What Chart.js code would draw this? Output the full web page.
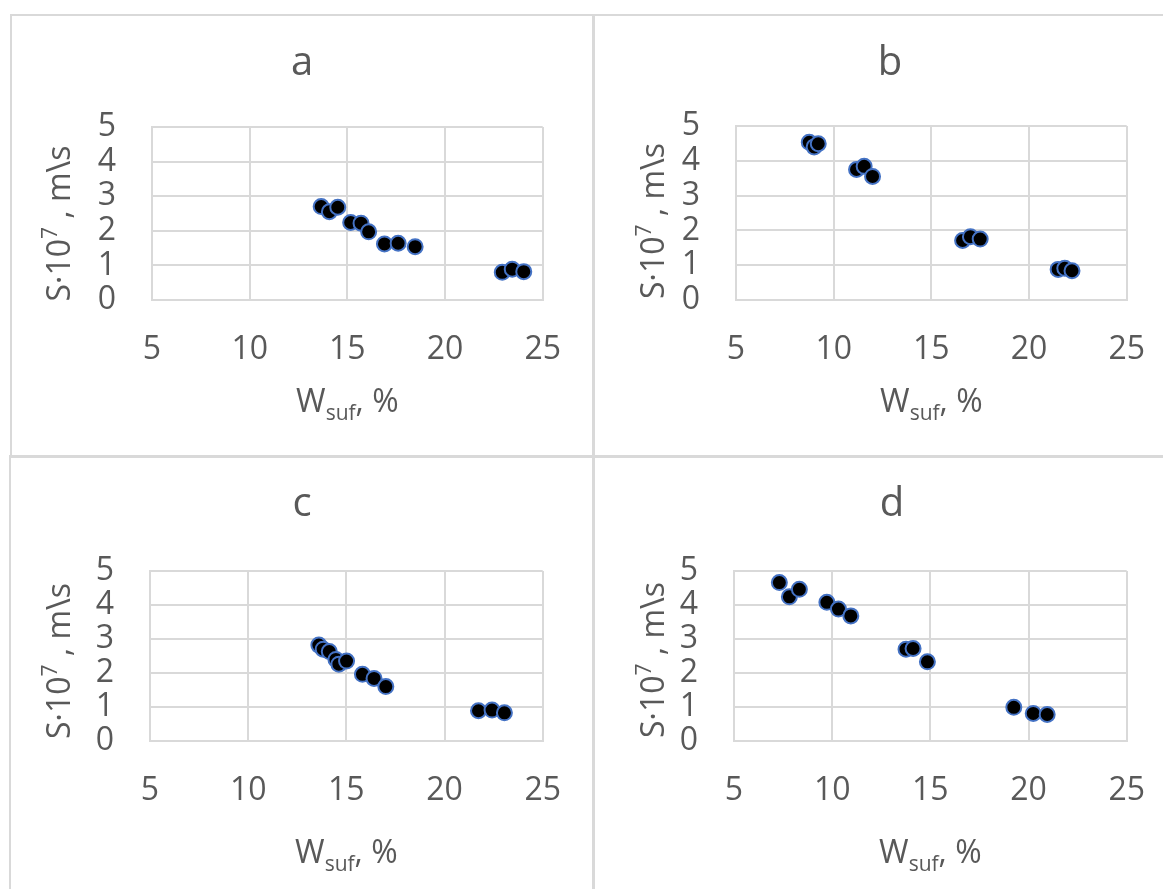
<!DOCTYPE html>
<html lang="en">
<head>
<meta charset="UTF-8">
<title>S vs Wsuf</title>
<script src="https://cdn.jsdelivr.net/npm/chart.js@4.4.0/dist/chart.umd.min.js"></script>
<style>
    body { margin: 0; background: #fff; overflow: hidden; }
    .wrap { position: relative; width: 1163px; height: 889px; overflow: hidden; }
    .wrap canvas { position: absolute; }
    .line { position: absolute; background: #d9d9d9; }
</style>
</head>
<body>
<div class="wrap">
    <canvas id="chartA" width="580" height="439" style="left:12px;top:17px"></canvas>
    <canvas id="chartB" width="580" height="439" style="left:596px;top:17px"></canvas>
    <canvas id="chartC" width="580" height="430" style="left:12px;top:459px"></canvas>
    <canvas id="chartD" width="580" height="430" style="left:596px;top:459px"></canvas>

    <div class="line" style="left:10px;top:14px;width:1153px;height:2px"></div>
    <div class="line" style="left:10px;top:14px;width:2px;height:443px"></div>
    <div class="line" style="left:9px;top:457px;width:2px;height:432px"></div>
    <div class="line" style="left:592px;top:14px;width:3px;height:875px"></div>
    <div class="line" style="left:9px;top:455px;width:1154px;height:3px"></div>
</div>

<script>
    // values
    const xTicks = [5, 10, 15, 20, 25];
    const yTicks = [0, 1, 2, 3, 4, 5];

    const aW = [13.66, 14.08, 14.51, 15.17, 15.70, 16.09, 16.90, 17.60, 18.47, 22.93, 23.44, 24.03];
    const aS = [2.70, 2.55, 2.68, 2.24, 2.22, 1.97, 1.62, 1.64, 1.54, 0.80, 0.89, 0.82];

    const bW = [8.75, 9.00, 9.21, 11.17, 11.56, 11.99, 16.60, 17.00, 17.50, 21.49, 21.83, 22.20];
    const bS = [4.53, 4.40, 4.49, 3.75, 3.84, 3.55, 1.71, 1.82, 1.75, 0.88, 0.91, 0.84];

    const cW = [13.60, 13.82, 14.13, 14.47, 14.62, 15.01, 15.82, 16.41, 17.01, 21.73, 22.42, 23.05];
    const cS = [2.82, 2.70, 2.63, 2.40, 2.26, 2.35, 1.96, 1.84, 1.60, 0.89, 0.91, 0.83];

    const dW = [7.31, 7.82, 8.33, 9.73, 10.32, 10.95, 13.76, 14.12, 14.85, 19.25, 20.24, 20.95];
    const dS = [4.66, 4.24, 4.46, 4.08, 3.88, 3.68, 2.70, 2.72, 2.33, 0.99, 0.81, 0.78];

    const textColor = '#595959';
    const fontName = '"Open Sans", "Noto Sans", sans-serif';

    function drawRuns(ctx, runs, cx, base) {
        let total = 0;
        runs.forEach(r => {
            ctx.font = r.size + 'px ' + fontName;
            r.w = ctx.measureText(r.t).width;
            total += r.w;
        });
        let x = cx - total / 2;
        runs.forEach(r => {
            ctx.font = r.size + 'px ' + fontName;
            ctx.fillText(r.t, x, base + (r.dy || 0));
            x += r.w;
        });
    }

    const panelText = {
        id: 'panelText',
        afterDraw(chart, args, o) {
            const ctx = chart.ctx;
            const area = chart.chartArea;
            ctx.save();
            ctx.fillStyle = textColor;
            ctx.textBaseline = 'alphabetic';

            // panel letter
            ctx.font = '40px ' + fontName;
            ctx.textAlign = 'center';
            ctx.fillText(o.letter, chart.width / 2 + o.letterDx, o.letterY);
            ctx.textAlign = 'left';

            // x title  W_suf, %
            drawRuns(ctx, [
                { t: 'W', size: 32 },
                { t: 'suf', size: 21, dy: 8 },
                { t: ', %', size: 32 }
            ], (area.left + area.right) / 2, o.xTitleY);

            // y title  S·10^7 , m\s
            ctx.translate(area.left - o.yTitleGap, (area.top + area.bottom) / 2 + o.yTitleDy);
            ctx.rotate(-Math.PI / 2);
            drawRuns(ctx, [
                { t: 'S·10', size: 32 },
                { t: '7', size: 21, dy: -13 },
                { t: ' , m\\s', size: 32 }
            ], 0, 0);
            ctx.restore();
        }
    };

    function makeChart(id, xs, ys, cfg) {
        const pts = xs.map((x, i) => ({ x: x, y: ys[i] }));
        return new Chart(document.getElementById(id), {
            type: 'scatter',
            data: {
                datasets: [{
                    data: pts,
                    backgroundColor: '#000000',
                    borderColor: '#4472C4',
                    borderWidth: 2,
                    pointRadius: 7.5,
                    pointHoverRadius: 7.5
                }]
            },
            plugins: [panelText],
            options: {
                responsive: false,
                animation: false,
                layout: { padding: { left: 0, top: cfg.top, right: cfg.right, bottom: 0 } },
                plugins: {
                    legend: { display: false },
                    tooltip: { enabled: false },
                    title: { display: false },
                    panelText: cfg.text
                },
                scales: {
                    x: {
                        type: 'linear',
                        min: xTicks[0],
                        max: xTicks[xTicks.length - 1],
                        afterBuildTicks: s => { s.ticks = xTicks.map(v => ({ value: v })); },
                        afterFit: s => { s.height = cfg.xHeight; },
                        grid: { color: '#d9d9d9', lineWidth: 2, drawTicks: false },
                        border: { color: '#d9d9d9', width: 2 },
                        ticks: { color: textColor, font: { family: fontName, size: 32 }, padding: 31, autoSkip: false, maxRotation: 0 }
                    },
                    y: {
                        type: 'linear',
                        min: yTicks[0],
                        max: yTicks[yTicks.length - 1],
                        afterBuildTicks: s => { s.ticks = yTicks.map(v => ({ value: v })); },
                        afterFit: s => { s.width = cfg.yWidth; },
                        grid: { color: '#d9d9d9', lineWidth: 2, drawTicks: false },
                        border: { color: '#d9d9d9', width: 2 },
                        ticks: { color: textColor, font: { family: fontName, size: 32 }, padding: 36, autoSkip: false }
                    }
                }
            }
        });
    }

    makeChart('chartA', aW, aS, {
        top: 110, right: 48, xHeight: 156, yWidth: 140,
        text: { letter: 'a', letterY: 58, letterDx: 0, xTitleY: 395, yTitleGap: 82, yTitleDy: 10 }
    });
    makeChart('chartB', bW, bS, {
        top: 109, right: 49, xHeight: 156, yWidth: 140,
        text: { letter: 'b', letterY: 58, letterDx: 4, xTitleY: 395, yTitleGap: 72, yTitleDy: 8 }
    });
    makeChart('chartC', cW, cS, {
        top: 112, right: 49, xHeight: 148, yWidth: 138,
        text: { letter: 'c', letterY: 57, letterDx: 0, xTitleY: 404, yTitleGap: 80, yTitleDy: 5 }
    });
    makeChart('chartD', dW, dS, {
        top: 112, right: 49, xHeight: 148, yWidth: 138,
        text: { letter: 'd', letterY: 57, letterDx: 6, xTitleY: 404, yTitleGap: 70, yTitleDy: 4 }
    });
</script>
</body>
</html>
